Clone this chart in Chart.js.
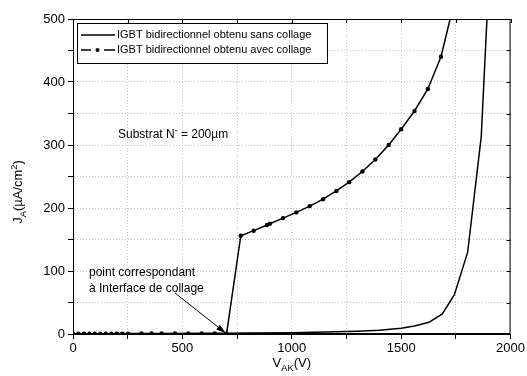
<!DOCTYPE html>
<html>
<head>
<meta charset="utf-8">
<script src="https://cdn.jsdelivr.net/npm/chart.js@4.4.1/dist/chart.umd.min.js"></script>
<style>
  body { margin: 0; background: #fff; }
</style>
</head>
<body>
<canvas id="chart" width="527" height="376"></canvas>
<script>
// IGBT sans collage (solid line)
const sansV = [0, 200, 400, 700, 800, 1000, 1200, 1300, 1400, 1500, 1561, 1627, 1688, 1743, 1804, 1866, 1895];
const sansJ = [0, 0.2, 0.4, 1, 1.5, 2, 3.5, 4.5, 6, 9, 12.7, 18.5, 32, 62, 130, 313, 520];

// IGBT avec collage (line + dots)
const avecV = [0, 25, 50, 75, 100, 125, 150, 175, 200, 225, 252, 313, 359, 405, 466, 527, 588, 648, 702,
  767, 826, 887, 900, 960, 1021, 1082, 1143, 1204, 1262, 1323, 1382, 1443, 1500, 1561, 1622, 1682, 1745];
const avecJ = [0.5, 0.5, 0.5, 0.5, 0.5, 0.5, 0.5, 0.5, 0.6, 0.6, 0.6, 0.7, 0.7, 0.7, 0.8, 0.8, 0.8, 0.9, 0.5,
  156, 164, 173, 175, 184, 193, 203, 214, 227, 241, 258, 277, 300, 325, 354, 389, 440, 530];

const xLabelValues = [0, 500, 1000, 1500, 2000];
const yLabelValues = [0, 100, 200, 300, 400, 500];

const legendLabels = ['IGBT bidirectionnel obtenu sans collage', 'IGBT bidirectionnel obtenu avec collage'];
const FONT = '"Liberation Sans", Arial, sans-serif';

function toPoints(xs, ys) {
  return xs.map((x, i) => ({ x: x, y: ys[i] }));
}

// draw text pieces with sub/superscripts, starting at x
function drawRich(ctx, parts, x, y, size) {
  parts.forEach(p => {
    const s = p.sub || p.sup ? size * 0.72 : size;
    ctx.font = s + 'px ' + FONT;
    let dy = 0;
    if (p.sub) dy = size * 0.3;
    if (p.sup) dy = -size * 0.4;
    ctx.fillText(p.t, x, y + dy);
    x += ctx.measureText(p.t).width;
  });
  return x;
}
function richWidth(ctx, parts, size) {
  let w = 0;
  parts.forEach(p => {
    const s = p.sub || p.sup ? size * 0.72 : size;
    ctx.font = s + 'px ' + FONT;
    w += ctx.measureText(p.t).width;
  });
  return w;
}

const extras = {
  id: 'extras',
  afterDraw(chart) {
    const ctx = chart.ctx;
    const a = chart.chartArea;
    const xs = chart.scales.x, ys = chart.scales.y;
    ctx.save();
    ctx.strokeStyle = '#000';
    ctx.fillStyle = '#000';
    ctx.lineWidth = 1;

    // frame + inner ticks on top / right
    ctx.strokeRect(a.left + 0.5, a.top + 0.5, a.right - a.left - 1, a.bottom - a.top - 1);
    ctx.beginPath();
    for (let v = 0; v <= 500; v += 50) {
      const py = Math.round(ys.getPixelForValue(v)) + 0.5;
      ctx.moveTo(a.right, py); ctx.lineTo(a.right - 4, py);
    }
    for (let v = 0; v <= 2000; v += 250) {
      const px = Math.round(xs.getPixelForValue(v)) + 0.5;
      ctx.moveTo(px, a.top); ctx.lineTo(px, a.top + 4);
    }
    ctx.stroke();

    // legend box
    const bx = 77, by = 23, bw = 250, bh = 40;
    ctx.fillStyle = '#fff';
    ctx.fillRect(bx, by, bw, bh);
    ctx.strokeRect(bx + 0.5, by + 0.5, bw, bh);
    ctx.fillStyle = '#000';
    ctx.font = '11px ' + FONT;
    ctx.textBaseline = 'middle';
    ctx.lineWidth = 1.5;
    ctx.beginPath();
    ctx.moveTo(81, 35); ctx.lineTo(115, 35);
    ctx.moveTo(81, 50); ctx.lineTo(91, 50);
    ctx.moveTo(104, 50); ctx.lineTo(115, 50);
    ctx.stroke();
    ctx.beginPath();
    ctx.arc(97.5, 50, 2, 0, Math.PI * 2);
    ctx.fill();
    ctx.fillText(legendLabels[0], 117, 35);
    ctx.fillText(legendLabels[1], 117, 50);

    // annotations
    ctx.textBaseline = 'alphabetic';
    ctx.font = '12px ' + FONT;
    ctx.fillText('point correspondant', 89, 276);
    ctx.fillText('à Interface de collage', 89, 292);
    drawRich(ctx, [{ t: 'Substrat N' }, { t: '-', sup: true }, { t: ' = 200µm' }], 118, 138, 12);

    // arrow to interface point
    const tx = xs.getPixelForValue(702) - 1, ty = ys.getPixelForValue(0) - 1;
    const sx = 175, sy = 293;
    ctx.lineWidth = 1;
    ctx.beginPath();
    ctx.moveTo(sx, sy); ctx.lineTo(tx, ty);
    ctx.stroke();
    const ang = Math.atan2(ty - sy, tx - sx);
    ctx.beginPath();
    ctx.moveTo(tx, ty);
    ctx.lineTo(tx - 10 * Math.cos(ang - 0.3), ty - 10 * Math.sin(ang - 0.3));
    ctx.lineTo(tx - 10 * Math.cos(ang + 0.3), ty - 10 * Math.sin(ang + 0.3));
    ctx.closePath();
    ctx.fill();

    // axis titles
    const xt = [{ t: 'V' }, { t: 'AK', sub: true }, { t: '(V)' }];
    const xw = richWidth(ctx, xt, 13);
    drawRich(ctx, xt, (a.left + a.right) / 2 - xw / 2, 367, 13);

    const yt = [{ t: 'J' }, { t: 'A', sub: true }, { t: '(µA/cm' }, { t: '2', sup: true }, { t: ')' }];
    const yw = richWidth(ctx, yt, 13);
    ctx.translate(22, 192);
    ctx.rotate(-Math.PI / 2);
    drawRich(ctx, yt, -yw / 2, 0, 13);
    ctx.restore();
  }
};

const ctx = document.getElementById('chart').getContext('2d');
const chart = new Chart(ctx, {
  type: 'line',
  data: {
    datasets: [{
      label: legendLabels[0],
      data: toPoints(sansV, sansJ),
      borderColor: '#000',
      borderWidth: 1.5,
      pointRadius: 0,
      tension: 0
    }, {
      label: legendLabels[1],
      data: toPoints(avecV, avecJ),
      borderColor: '#000',
      backgroundColor: '#000',
      borderWidth: 1.5,
      pointRadius: c => (c.raw && c.raw.y > 500 ? 0 : 2.2),
      pointBorderWidth: 0,
      tension: 0
    }]
  },
  options: {
    responsive: false,
    animation: false,
    devicePixelRatio: 1,
    layout: { padding: { top: 19, right: 16, left: 0, bottom: 0 } },
    plugins: { legend: { display: false }, tooltip: { enabled: false } },
    scales: {
      x: {
        type: 'linear',
        min: 0, max: 2000,
        afterFit: s => { s.height = 42; },
        ticks: {
          stepSize: 250,
          autoSkip: false,
          maxRotation: 0,
          padding: 2,
          color: '#000',
          font: { family: FONT, size: 13 },
          callback: v => (xLabelValues.includes(v) ? String(v) : '')
        },
        grid: { color: '#c4c4c4', tickColor: '#000', tickLength: 5, tickBorderDash: [] },
        border: { color: '#000', width: 1, dash: [1, 2] }
      },
      y: {
        min: 0, max: 500,
        afterFit: s => { s.width = 73; },
        ticks: {
          stepSize: 50,
          autoSkip: false,
          padding: 3,
          color: '#000',
          font: { family: FONT, size: 13 },
          callback: v => (yLabelValues.includes(v) ? String(v) : '')
        },
        grid: { color: '#c4c4c4', tickColor: '#000', tickLength: 5, tickBorderDash: [] },
        border: { color: '#000', width: 1, dash: [1, 2] }
      }
    }
  },
  plugins: [extras]
});
</script>
</body>
</html>
